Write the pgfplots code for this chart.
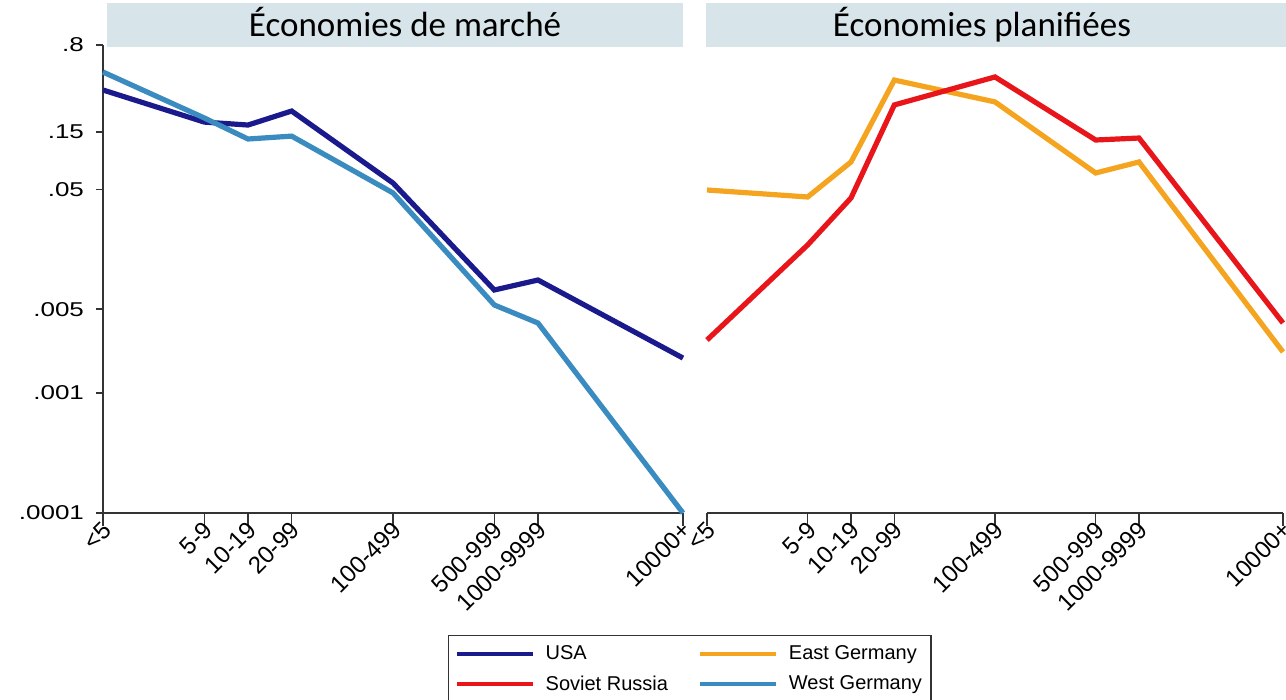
\documentclass[border=0pt]{standalone}
\usepackage{fontspec}
\setmainfont{Liberation Sans}
\newfontfamily\titlefont{Carlito}
\usepackage{graphicx}
\usepackage{pgfplots}
\pgfplotsset{compat=1.18}
\definecolor{USAc}{HTML}{1A1A8C}
\definecolor{SRc}{HTML}{E8161B}
\definecolor{EGc}{HTML}{F5A41F}
\definecolor{WGc}{HTML}{3A8BC0}
\definecolor{Band}{HTML}{D7E4E9}
\definecolor{Ax}{HTML}{333333}
\newcommand{\wide}[1]{\scalebox{1.3}[1]{#1}}
\tikzset{
  usaline/.style={line width=2.6pt,draw=USAc},
  egline/.style={line width=2.6pt,draw=EGc},
  srline/.style={line width=2.6pt,draw=SRc},
  wgline/.style={line width=2.6pt,draw=WGc},
}
\pgfplotsset{
  mypanel/.style={
    scale only axis, width=290pt, height=234pt,
    xmin=0, xmax=4, ymin=0.0001, ymax=0.8,
    clip=false,
    axis x line*=bottom,
    tick align=outside, major tick length=3.5pt,
    xtick style={/pgfplots/major tick length=6.5pt},
    axis line style={draw=Ax,line width=0.8pt},
    tick style={draw=Ax,line width=0.8pt},
    xtick={0,0.699,1,1.301,2,2.699,3,4},
    xticklabels={<5,5-9,10-19,20-99,100-499,500-999,1000-9999,10000+},
    xticklabel style={rotate=45,anchor=east,inner sep=1pt,yshift=-3.5pt,xshift=0.5pt,
      font=\fontsize{12}{14}\selectfont},
    yticklabel style={font=\fontsize{10}{12}\selectfont,xshift=-2.5pt},
    yminorticks=false,
  },
}
\begin{document}
\begin{tikzpicture}
\clip (0,0) rectangle (643pt,350pt);
\fill[Band] (53.5pt,326.5pt) rectangle (341.5pt,348.5pt);
\fill[Band] (353pt,326.5pt) rectangle (643pt,348.5pt);
\node[anchor=base,font=\titlefont\fontsize{17.5}{20}\selectfont] at (202.5pt,331.5pt) {Économies de marché};
\node[anchor=base,font=\titlefont\fontsize{17.5}{20}\selectfont] at (491pt,331.5pt) {Économies planifiées};

\begin{axis}[ymode=log, mypanel, at={(51.5pt,93.5pt)}, anchor=south west,
  axis y line*=left,
  ytick={0.8,0.15,0.05,0.005,0.001,0.0001},
  yticklabels={\wide{.8},\wide{.15},\wide{.05},\wide{.005},\wide{.001},\wide{.0001}},
  legend columns=2,
  legend cell align=left,
  legend image code/.code={\draw[#1,line width=2pt] (0pt,0pt) -- (38pt,0pt);},
  legend style={at={(0.595,-0.261)},anchor=north west,draw=Ax,line width=0.6pt,
    font=\fontsize{10}{12}\selectfont,inner xsep=3pt,inner ysep=3.5pt,
    nodes={inner sep=1.5pt},row sep=3.5pt,
    /tikz/every odd column/.append style={column sep=4pt},
    /tikz/every even column/.append style={column sep=13.5pt}},
]
\addplot[usaline] coordinates {(0,0.337)(0.699,0.182)(1,0.172)(1.301,0.225)(2,0.0565)(2.699,0.00724)(3,0.00877)(4,0.00196)};
\addlegendentry{USA}
\addlegendimage{egline}
\addlegendentry{East Germany}
\addlegendimage{srline}
\addlegendentry{Soviet Russia}
\addplot[wgline] coordinates {(0,0.476)(0.699,0.197)(1,0.1315)(1.301,0.139)(2,0.0467)(2.699,0.00543)(3,0.00384)(4,0.0001)};
\addlegendentry{West Germany}
\end{axis}

\begin{axis}[ymode=log, mypanel, at={(353.5pt,93.5pt)}, anchor=south west, width=288pt,
  axis y line=none]
\addplot[egline] coordinates {(0,0.0494)(0.699,0.0432)(1,0.0846)(1.301,0.408)(2,0.268)(2.699,0.0685)(3,0.0846)(4,0.0022)};
\addplot[srline] coordinates {(0,0.00277)(0.699,0.0172)(1,0.0424)(1.301,0.253)(2,0.433)(2.699,0.129)(3,0.134)(4,0.00384)};
\end{axis}
\end{tikzpicture}
\end{document}
